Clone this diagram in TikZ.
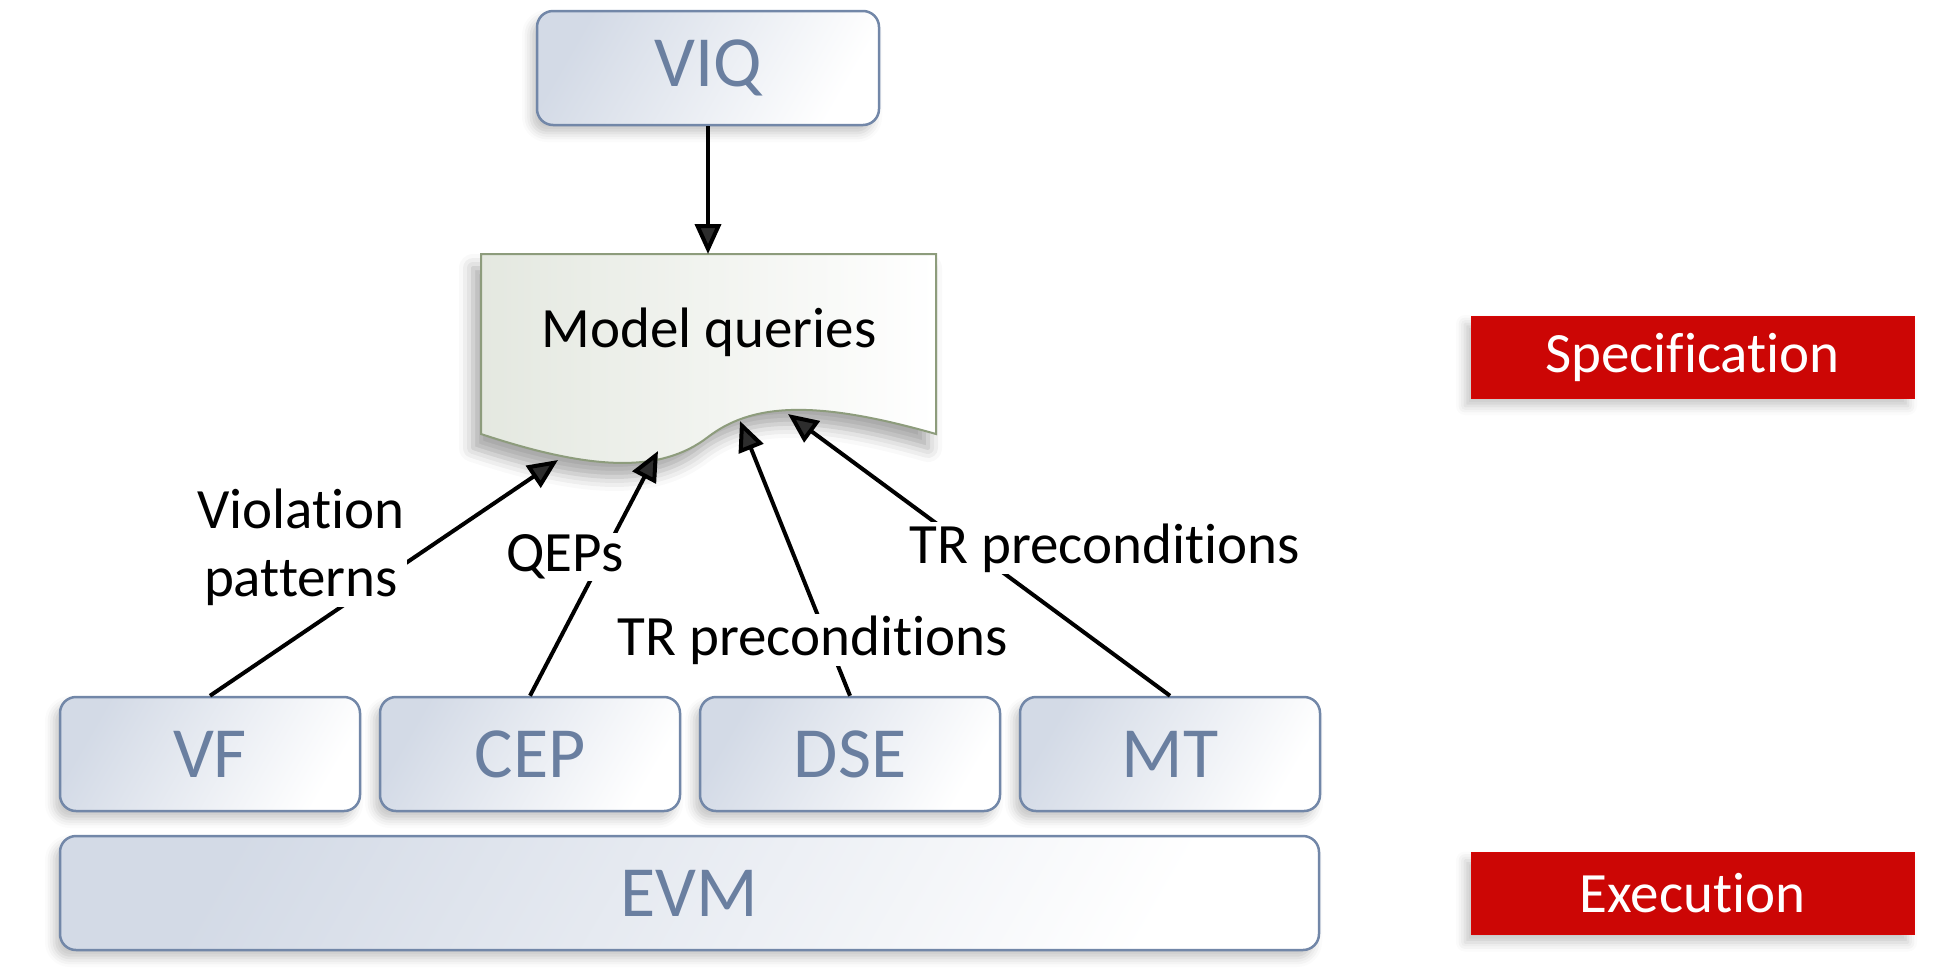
\documentclass[tikz,border=0pt]{standalone}
\usepackage{fontspec}
\setmainfont{Carlito}[Ligatures={NoCommon}]
\usetikzlibrary{arrows.meta,shadows.blur}
\definecolor{layerline}{HTML}{7287A8}
\definecolor{layertext}{HTML}{6A7FA0}
\definecolor{layerfill}{HTML}{D3DAE6}
\definecolor{docline}{HTML}{8D9C7C}
\definecolor{docfill}{HTML}{E4E8E0}
\definecolor{tagred}{HTML}{CC0605}
\tikzset{softshadow/.style={blur shadow={shadow xshift=-6pt,shadow yshift=-8pt,shadow blur radius=9pt,shadow opacity=22}}}
\tikzset{layer/.style={draw=layerline,line width=2.5pt,rounded corners=16pt,left color=layerfill,right color=white,shading angle=60,text=layertext,font=\fontsize{72}{86}\selectfont,minimum width=300pt,minimum height=114pt,softshadow}}
\tikzset{tag/.style={fill=tagred,draw=tagred!80!red,line width=1pt,text=white,font=\fontsize{57}{68}\selectfont,minimum width=443pt,minimum height=82pt,softshadow}}
\tikzset{arr/.style={line width=4pt,-{Triangle[length=30pt,width=26pt]}}}
\tikzset{lbl/.style={fill=white,inner sep=2pt,align=center,font=\fontsize{57}{68}\selectfont}}

\begin{document}
\begin{tikzpicture}[x=1pt,y=-1pt]
	\useasboundingbox (0,0) rectangle (1944,978);
	% layers
	\node[layer,minimum width=342pt] (VIQ) at (708,68) {VIQ};
	\foreach \name [count=\i from 0] in {VF,CEP,DSE,MT}{
		\node[layer] (\name) at (210+320*\i,754) {\name};
	}
	\node[layer,minimum width=1259pt] (EVM) at (689.5,893) {EVM};
	% document
	\draw[draw=docline,line width=2pt,left color=docfill,right color=white,
		blur shadow={shadow xshift=-8pt,shadow yshift=-14pt,shadow blur radius=14pt,shadow opacity=35}]
		(481,254) -- (936,254) -- (936,434)
		.. controls (810,398) and (750,405) .. (708,437)
		.. controls (660,474) and (590,470) .. (481,434) -- cycle;
	\node[font=\fontsize{57}{68}\selectfont] (MQ) at (709,332) {Model queries};
	\coordinate (dtop) at (708,254);
	\coordinate (d1) at (558,460);
	\coordinate (d2) at (658,451);
	\coordinate (d3) at (740,421);
	\coordinate (d4) at (788,414);
	% connectors
	\draw[arr] (VIQ.south) -- (dtop);
	\draw[arr] (VF.north) -- (d1);
	\draw[arr] (CEP.north) -- (d2);
	\draw[arr] (DSE.north) -- (d3);
	\draw[arr] (MT.north) -- (d4);
	\node[lbl] (vp) at (301,547) {Violation\\patterns};
	\node[lbl] (qep) at (565,557) {QEPs};
	\node[lbl] (trd) at (813,640) {TR preconditions};
	\node[lbl] (trm) at (1105,548) {TR preconditions};
	% levels
	\node[tag] (spec) at (1692.5,357) {Specification};
	\node[tag] (exec) at (1692.5,893.5) {Execution};
\end{tikzpicture}
\end{document}
